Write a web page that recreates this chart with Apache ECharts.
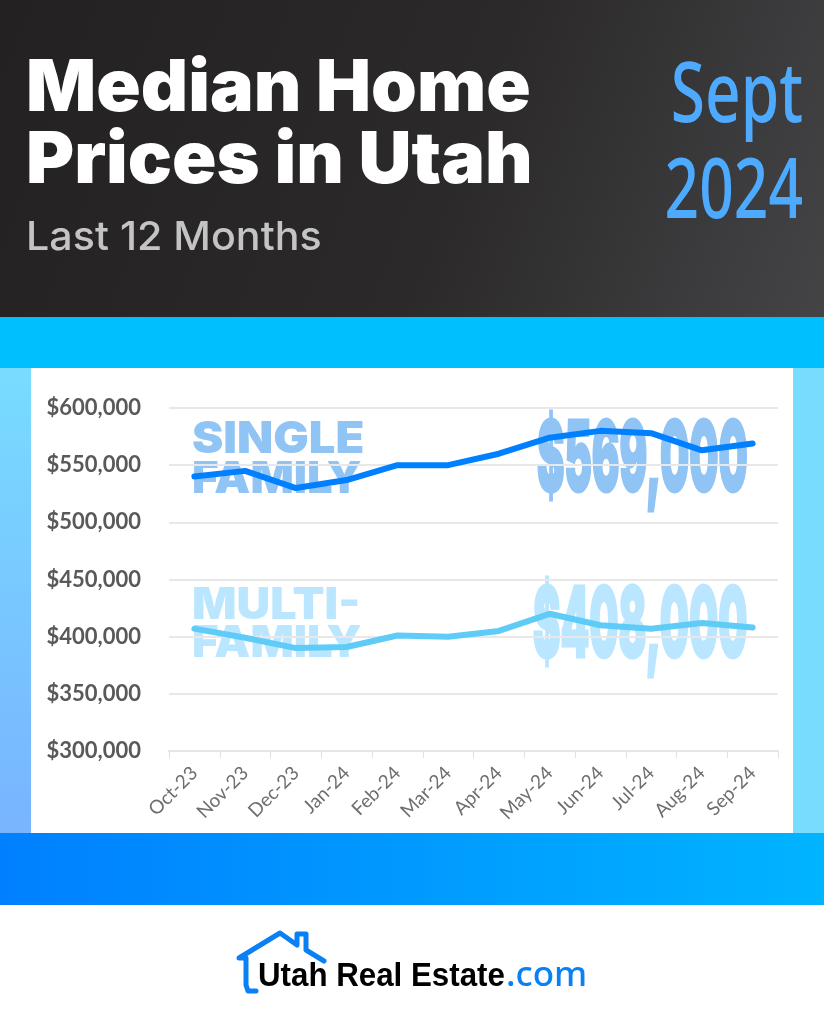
<!DOCTYPE html>
<html lang="en">
<head>
  <meta charset="utf-8">
  <title>Median Home Prices in Utah</title>
  <script src="https://cdn.jsdelivr.net/npm/echarts@6/dist/echarts.min.js"></script>
  <style>
    html, body { margin: 0; padding: 0; background: #fff; }
    #chart { width: 824px; height: 1024px; }
  </style>
</head>
<body>
<div id="chart"></div>
<script type="text/javascript">
var months = ['Oct-23','Nov-23','Dec-23','Jan-24','Feb-24','Mar-24','Apr-24','May-24','Jun-24','Jul-24','Aug-24','Sep-24'];
var singleFamily = [540000,545000,530000,537000,550000,550000,560000,574000,580000,578000,563000,569000];
var multiFamily = [407000,399000,390000,391000,401000,400000,405000,420000,410000,407000,412000,408000];
var singleLabel = '$569,000';
var multiLabel = '$408,000';

var HEAVY = '"Inter", "Liberation Sans", sans-serif';

function rect(x, y, w, h, fill) {
  return { type: 'rect', z: -10, silent: true, shape: { x: x, y: y, width: w, height: h }, style: { fill: fill } };
}
function grad(x0, y0, x1, y1, stops) {
  return new echarts.graphic.LinearGradient(x0, y0, x1, y1, stops.map(function (c) {
    return { offset: c[0], color: c[1] };
  }));
}
function label(text, x, y, font, fill, extra) {
  var el = { type: 'text', z: -5, silent: true, x: x, y: y,
    style: { text: text, font: font, fill: fill, textAlign: 'left', textVerticalAlign: 'middle' } };
  for (var k in (extra || {})) {
    if (k === 'textAlign') el.style.textAlign = extra[k];
    else if (k === 'thicken') { el.style.stroke = fill; el.style.lineWidth = extra[k]; }
    else el[k] = extra[k];
  }
  return el;
}

var chart = echarts.init(document.getElementById('chart'), null, { renderer: 'canvas' });

chart.setOption({
  animation: false,
  backgroundColor: '#ffffff',
  grid: { left: 169, top: 408, width: 609, height: 343, containLabel: false },
  xAxis: {
    type: 'category',
    data: months,
    boundaryGap: true,
    axisLine: { lineStyle: { color: '#e6e6e6', width: 2 } },
    axisTick: { show: true, length: 7, lineStyle: { color: '#e0e0e0', width: 1 } },
    axisLabel: { interval: 0, rotate: 45, margin: 19, color: '#6e6e6e', fontSize: 19, fontFamily: 'Lato, sans-serif' }
  },
  yAxis: {
    type: 'value',
    min: 300000,
    max: 600000,
    interval: 50000,
    axisLine: { show: false },
    axisTick: { show: false },
    splitLine: { lineStyle: { color: '#e8e8e8', width: 2 } },
    axisLabel: {
      margin: 28,
      color: '#595959',
      fontSize: 22,
      fontWeight: 'bold',
      fontFamily: 'Lato, sans-serif',
      formatter: function (v) { return '$' + v.toLocaleString('en-US'); }
    }
  },
  series: [
    { name: 'Single Family', type: 'line', data: singleFamily, showSymbol: false, symbol: 'none', z: 3,
      lineStyle: { color: '#0080ff', width: 6, cap: 'round', join: 'round' } },
    { name: 'Multi-Family', type: 'line', data: multiFamily, showSymbol: false, symbol: 'none', z: 3,
      lineStyle: { color: '#5fcbf7', width: 6, cap: 'round', join: 'round' } }
  ],
  graphic: [
    // page bands
    rect(0, 0, 824, 317, grad(0, 0, 1, 1, [[0, '#232122'], [0.55, '#2b292a'], [1, '#444446']])),
    rect(0, 317, 824, 51, '#00bfff'),
    rect(0, 368, 31, 465, grad(0, 0, 0, 1, [[0, '#78dcff'], [1, '#78b4ff']])),
    rect(793, 368, 31, 465, '#78dcff'),
    rect(0, 833, 824, 72, grad(0, 0, 1, 0, [[0, '#0080ff'], [1, '#00b4ff']])),

    // header
    label('Median Home', 26, 89, '900 72px ' + HEAVY, '#ffffff', { scaleX: 1.02 }),
    label('Prices in Utah', 26, 161, '900 72px ' + HEAVY, '#ffffff', { scaleX: 1.02 }),
    label('Last 12 Months', 26, 238, '500 40px ' + HEAVY, '#c4c4c4', { scaleX: 1.03 }),
    label('Sept', 803, 98, '500 84px "Noto Sans", sans-serif', '#4daaff', { textAlign: 'right', scaleX: 0.74 }),
    label('2024', 803, 194, '500 84px "Noto Sans", sans-serif', '#4daaff', { textAlign: 'right', scaleX: 0.72 }),

    // watermarks behind the lines
    label('SINGLE', 192, 440, '900 44px ' + HEAVY, '#90c4f4', { scaleX: 1.07 }),
    label('FAMILY', 192, 480, '900 44px ' + HEAVY, '#90c4f4', { scaleX: 1.03 }),
    label('MULTI-', 192, 606, '900 44px ' + HEAVY, '#bae6ff', { scaleX: 1.06 }),
    label('FAMILY', 192, 644, '900 44px ' + HEAVY, '#bae6ff', { scaleX: 1.03 }),
    label(singleLabel, 537, 462, '900 98px ' + HEAVY, '#90c4f4', { scaleX: 0.42, thicken: 3 }),
    label(multiLabel, 533, 628, '900 98px ' + HEAVY, '#bae6ff', { scaleX: 0.42, thicken: 3 }),

    // logo
    { type: 'polyline', z: -5, silent: true,
      shape: { points: [[256, 991], [248, 991], [246, 985], [246, 958], [239, 958], [280, 933], [297, 945], [297, 934], [306, 934], [306, 950], [324, 961]] },
      style: { stroke: '#0a80f5', lineWidth: 5, fill: 'none', lineJoin: 'round', lineCap: 'round' } },
    label('Utah Real Estate', 258, 977, '700 34px "Liberation Sans", sans-serif', '#000000', { scaleX: 0.92 }),
    label('.com', 506, 976, '500 35px "Noto Sans", sans-serif', '#0a80f5')
  ]
});
</script>
</body>
</html>
